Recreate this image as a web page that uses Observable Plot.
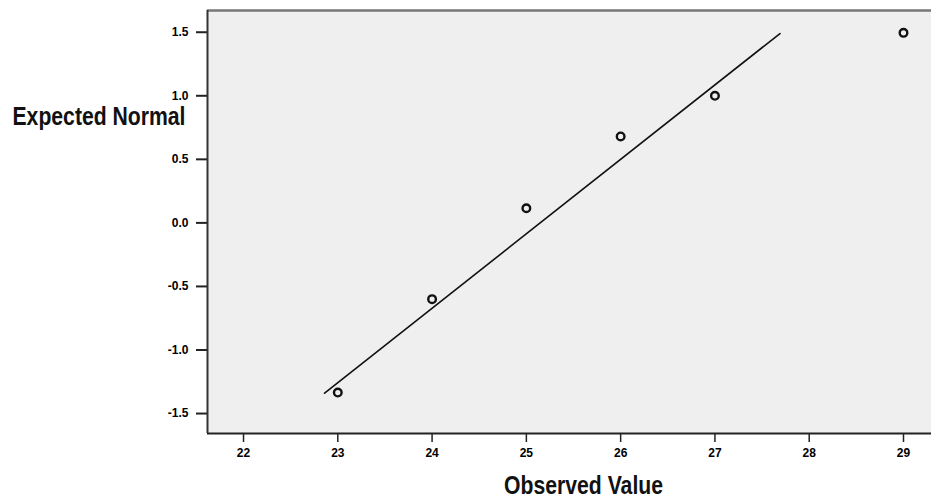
<!DOCTYPE html>
<html>
<head>
<meta charset="utf-8">
<script src="https://cdn.jsdelivr.net/npm/d3@7"></script>
<script src="https://cdn.jsdelivr.net/npm/@observablehq/plot@0.6"></script>
<style>
  html, body { margin: 0; padding: 0; background: #ffffff; }
  #chart svg { display: block; }
</style>
</head>
<body>
<div id="chart"></div>
<script>
// Observed values and their expected normal scores
const observed = [23, 24, 25, 26, 27, 29];
const expected = [-1.335, -0.60, 0.115, 0.68, 1.0, 1.495];
// Reference line endpoints (observed, expected)
const lineX = [22.86, 27.69];
const lineY = [-1.34, 1.49];
const xTicks = [22, 23, 24, 25, 26, 27, 28, 29];
const yTicks = [-1.5, -1.0, -0.5, 0.0, 0.5, 1.0, 1.5];
const xTitle = "Observed Value";
const yTitle = "Expected Normal";

const points = observed.map((x, i) => ({x, y: expected[i]}));
const refLine = lineX.map((x, i) => ({x, y: lineY[i]}));

const font = "'Liberation Sans Narrow', 'Liberation Sans', Arial, sans-serif";

const chart = Plot.plot({
  width: 931,
  height: 502,
  marginLeft: 207,
  marginRight: 0,
  marginTop: 10,
  marginBottom: 69,
  style: {fontFamily: font, background: "#ffffff", overflow: "visible"},
  x: {domain: [21.618, 29.297], label: null},
  y: {domain: [-1.657, 1.671], label: null},
  marks: [
    Plot.frame({fill: "#efefef", stroke: null}),
    Plot.ruleY([1.671], {stroke: "#777", strokeWidth: 2.5}),
    Plot.axisX({ticks: xTicks, tickFormat: d => String(d), tickSize: 9, tickPadding: 6, fontSize: 12, fontWeight: "bold", stroke: "#222", strokeWidth: 1.5, label: null}),
    Plot.axisY({ticks: yTicks, tickFormat: d => d.toFixed(1), tickSize: 11, tickPadding: 8, fontSize: 12, fontWeight: "bold", stroke: "#222", strokeWidth: 2, label: null}),
    Plot.ruleX([21.618], {stroke: "#333", strokeWidth: 2}),
    Plot.ruleY([-1.657], {stroke: "#222", strokeWidth: 2}),
    Plot.line(refLine, {x: "x", y: "y", stroke: "#111", strokeWidth: 1.6}),
    Plot.dot(points, {x: "x", y: "y", r: 3.8, stroke: "#111", strokeWidth: 2.4, fill: "none"}),
    Plot.text([yTitle], {frameAnchor: "top-left", dx: -195, dy: 96, textAnchor: "start", fontSize: 26, fontWeight: "bold", fill: "#111", className: "ytitle"}),
    Plot.text([xTitle], {frameAnchor: "bottom", dx: 14, dy: 60, fontSize: 26, fontWeight: "bold", fill: "#111", className: "xtitle"})
  ]
});
document.getElementById("chart").appendChild(chart);

// Condense the titles to match the narrow typeface of the original
d3.select(chart).selectAll(".ytitle text").attr("textLength", 173).attr("lengthAdjust", "spacingAndGlyphs");
d3.select(chart).selectAll(".xtitle text").attr("textLength", 159).attr("lengthAdjust", "spacingAndGlyphs");
</script>
</body>
</html>
